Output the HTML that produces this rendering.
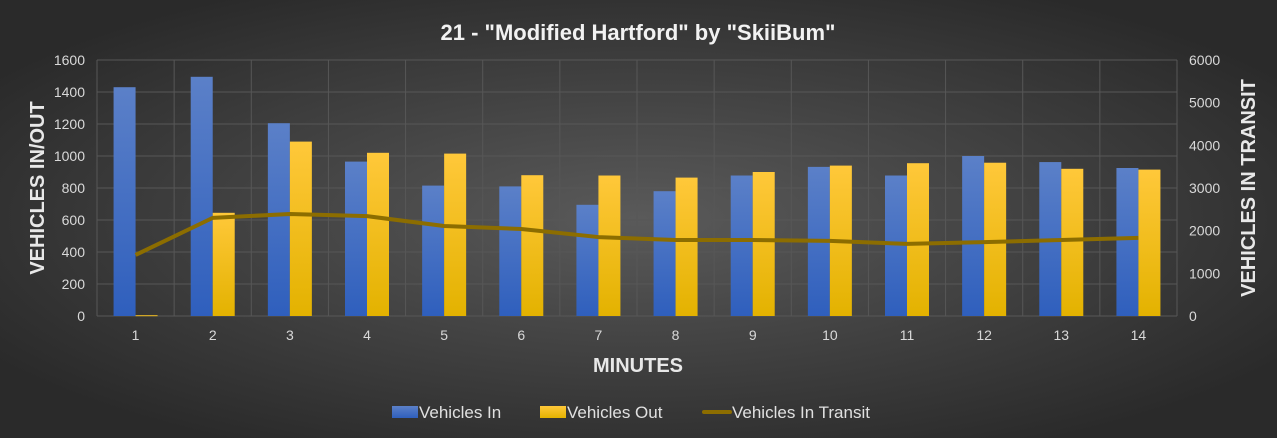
<!DOCTYPE html>
<html><head><style>
body{margin:0;width:1277px;height:438px;overflow:hidden;background:#333}
svg{display:block}
text{font-family:"Liberation Sans",sans-serif}
</style></head><body>
<svg width="1277" height="438" xmlns="http://www.w3.org/2000/svg">
<defs>
<radialGradient id="bg" cx="50%" cy="50%" r="60%">
<stop offset="0" stop-color="#5a5a5a"/><stop offset="1" stop-color="#2a2a2a"/>
</radialGradient>
<linearGradient id="gb" x1="0" y1="0" x2="0" y2="1"><stop offset="0" stop-color="#5b80c8"/><stop offset="1" stop-color="#2f5fbd"/></linearGradient>
<linearGradient id="gy" x1="0" y1="0" x2="0" y2="1"><stop offset="0" stop-color="#ffc83a"/><stop offset="1" stop-color="#e3b200"/></linearGradient>
</defs>
<rect width="1277" height="438" fill="url(#bg)"/>
<text x="638" y="40" text-anchor="middle" font-size="22" font-weight="bold" fill="#f2f2f2">21 - "Modified Hartford" by "SkiiBum"</text>
<g id="grid" stroke="#575757" stroke-width="1"></g>
<g id="bars"></g>
<g id="labels" font-size="14" fill="#d9d9d9"></g>
<text transform="translate(44,188) rotate(-90)" text-anchor="middle" font-size="20" font-weight="bold" fill="#e8e8e8">VEHICLES IN/OUT</text>
<text transform="translate(1255,188) rotate(-90)" text-anchor="middle" font-size="20" font-weight="bold" fill="#e8e8e8">VEHICLES IN TRANSIT</text>
<text x="638" y="372" text-anchor="middle" font-size="20" font-weight="bold" fill="#e8e8e8">MINUTES</text>
<g font-size="17" fill="#e0e0e0">
<rect x="392" y="406" width="26" height="12" fill="url(#gb)"/><text x="419" y="418">Vehicles In</text>
<rect x="540" y="406" width="26" height="12" fill="url(#gy)"/><text x="567" y="418">Vehicles Out</text>
<line x1="704" y1="412" x2="730" y2="412" stroke="#8c6d00" stroke-width="4" stroke-linecap="round"/><text x="732" y="418">Vehicles In Transit</text>
</g>
<polyline id="ln" fill="none" stroke="#8c6d00" stroke-width="4" stroke-linejoin="round"/>
</svg>
<script>
var ns="http://www.w3.org/2000/svg";
function el(p,t,a,txt){var e=document.createElementNS(ns,t);for(var k in a)e.setAttribute(k,a[k]);if(txt!=null)e.textContent=txt;document.getElementById(p).appendChild(e);return e;}
var L=97,R=1177,T=60,B=316,w=(R-L)/14;
for(var i=0;i<=8;i++){var y=B-i*32;el('grid','line',{x1:L,x2:R,y1:y,y2:y});
el('labels','text',{x:85,y:y+5,'text-anchor':'end'},String(i*200));}
for(var i=0;i<=6;i++){var y=B-i*256/6;el('labels','text',{x:1189,y:y+5},String(i*1000));}
for(var i=0;i<=14;i++){var x=L+i*w;el('grid','line',{x1:x,x2:x,y1:T,y2:B});}
var vin=[1430,1495,1205,965,815,810,695,780,878,932,878,1000,962,925];
var vout=[5,645,1090,1020,1015,880,878,865,900,940,955,958,920,915];
var tr=[1430,2300,2390,2340,2110,2040,1850,1780,1780,1760,1690,1730,1780,1830];
var pts=[];
for(var i=0;i<14;i++){var c=L+w*(i+0.5);
var h1=vin[i]*0.16,h2=vout[i]*0.16;
el('bars','rect',{x:c-22,y:B-h1,width:22,height:h1,fill:'url(#gb)'});
el('bars','rect',{x:c,y:B-h2,width:22,height:Math.max(h2,1),fill:'url(#gy)'});
el('labels','text',{x:c,y:340,'text-anchor':'middle'},String(i+1));
pts.push(c+','+(B-tr[i]*256/6000));}
document.getElementById('ln').setAttribute('points',pts.join(' '));
</script>
</body></html>
